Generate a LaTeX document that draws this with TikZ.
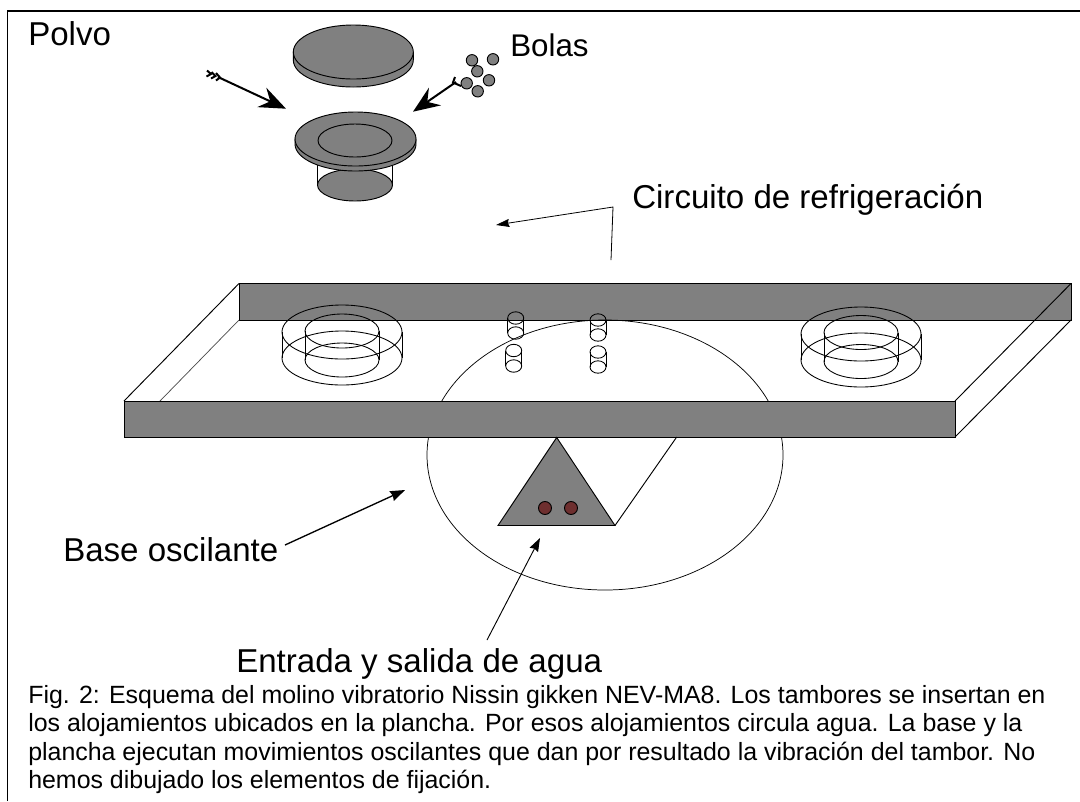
\documentclass[tikz,border=0pt]{standalone}
\usepackage{fontspec}
\setmainfont{Liberation Sans}
\usetikzlibrary{arrows.meta}
\definecolor{partgray}{HTML}{808080}
\definecolor{dotred}{HTML}{6E2F2F}
\tikzset{
  thinline/.style={draw=black,line width=0.7pt},
  hair/.style={draw=black,line width=0.55pt},
  solid part/.style={fill=partgray,draw=black,line width=0.7pt},
  ring/.style={draw=black,line width=0.65pt},
  label/.style={inner sep=0pt,anchor=base west,font=\fontsize{24.8pt}{28pt}\selectfont},
  capline/.style={inner sep=0pt,anchor=base west,font=\fontsize{18.7pt}{21pt}\selectfont},
  bigarrow/.style={draw=black,line width=1.5pt,-{Stealth[length=20pt,width=16pt,inset=7pt]}},
  midarrow/.style={draw=black,line width=1pt,-{Stealth[length=11pt,width=8pt,inset=1pt]}},
  feather/.style={draw=black,line width=1.5pt},
}
\newcommand{\minicyl}[3]{% x, top cy, bottom cy
  \draw[ring] (#1-8,#2) -- (#1-8,#3) (#1+8,#2) -- (#1+8,#3);
  \draw[ring] (#1,#2) ellipse [x radius=8,y radius=6.2];
  \draw[ring] (#1,#3) ellipse [x radius=8,y radius=6.2];
}
\newcommand{\housing}[5]{% x, outer top, outer low, inner top, inner low
  \draw[ring] (#1,#2) ellipse [x radius=60,y radius=27];
  \draw[ring] (#1,#3) ellipse [x radius=60,y radius=27];
  \draw[ring] (#1,#4) ellipse [x radius=37,y radius=17];
  \draw[ring] (#1,#5) ellipse [x radius=37,y radius=17];
  \draw[ring] (#1-60,#2) -- (#1-60,#3) (#1+60,#2) -- (#1+60,#3);
  \draw[ring] (#1-37,#4) -- (#1-37,#5) (#1+37,#4) -- (#1+37,#5);
}
\begin{document}
\begin{tikzpicture}[x=0.75pt,y=-0.75pt]
\useasboundingbox (0,0) rectangle (1080,801);
% frame
\draw[black,line width=1.3pt] (7.5,801) -- (7.5,11) -- (1080,11);
% plate: back wall
\fill[partgray] (239,283.5) rectangle (1071,320);
\draw[thinline] (239,320) -- (239,283.5) -- (1071,283.5) -- (1071,320) -- cycle;
% base ellipse
\draw[hair] (605,455) ellipse [x radius=178,y radius=135];
% plate edges
\draw[thinline] (124,401) -- (239,283.5);
\draw[hair,draw=black!70] (160,401) -- (239,320);
\draw[thinline] (955,401) -- (1071,283.5);
\draw[thinline] (955,437) -- (1071,320);
\draw[solid part] (124,401) rectangle (955,437);
% housings
\housing{342}{332}{358}{331}{360}
\housing{861}{334}{360}{332.5}{361.5}
\minicyl{515.7}{318}{333}
\minicyl{513.7}{350.5}{366}
\minicyl{598}{320}{335}
\minicyl{598}{352}{367}
% support
\draw[thinline] (615,525.5) -- (676.7,437);
\draw[solid part] (556.7,437.5) -- (498,525.5) -- (615,525.5) -- cycle;
\draw[fill=dotred,draw=black,line width=0.7pt] (545,508) circle [x radius=6.5,y radius=6.5];
\draw[fill=dotred,draw=black,line width=0.7pt] (571,508) circle [x radius=6.5,y radius=6.5];
% lid
\draw[solid part] (293.3,52) -- (293.3,60) arc [start angle=180,end angle=0,x radius=60,y radius=27] -- (413.3,52) -- cycle;
\draw[solid part] (353.3,52) ellipse [x radius=60,y radius=27];
% drum
\draw[thinline] (317.5,155) -- (317.5,185) (392.5,155) -- (392.5,185);
\draw[solid part] (355,185) ellipse [x radius=37.5,y radius=16];
\draw[solid part] (295,139) -- (295,144) arc [start angle=180,end angle=0,x radius=60.5,y radius=27] -- (416,139) -- cycle;
\draw[solid part] (355.5,139) ellipse [x radius=60.5,y radius=27];
\draw[thinline] (355,140.5) ellipse [x radius=37,y radius=16.5];
% arrow left
\coordinate (la) at (218,77);
\coordinate (lb) at (286,108.7);
\draw[bigarrow] (la) -- (lb);
\draw[feather] (207,70.5) -- (211,74) -- (206.5,76.5);
\draw[feather] (211.5,72) -- (215.5,76) -- (211,78.5);
\draw[feather] (216,73) -- (220,77.5) -- (216,80.5);
% arrow right
\coordinate (ra) at (456,82);
\coordinate (rb) at (413,111.7);
\draw[bigarrow] (ra) -- (rb);
\draw[feather] (455,77) -- (453,82.5) -- (461,86);
% balls
\foreach \bx/\by in {472/60.3,493/59.3,477.3/71.3,466.7/83.3,489/80.3,477.7/91.3}
  \draw[fill=partgray,draw=black,line width=0.7pt] (\bx,\by) circle [x radius=5.7,y radius=5.7];
% labels
\node[label] (polvo) at (28,45) {Polvo};
\node[label,font=\fontsize{23.5pt}{28pt}\selectfont] (bolas) at (510,56) {Bolas};
\node[label] (circ) at (632,208) {Circuito de refrigeración};
\node[label] (base) at (63,561.7) {Base oscilante};
\node[label] (entr) at (236,672) {Entrada y salida de agua};
% pointers
\coordinate (c0) at (611,260);
\coordinate (c1) at (613,207);
\coordinate (c2) at (496,225);
\draw[draw=black,line width=0.6pt,-{Stealth[length=10pt,width=6pt,inset=1pt]}] (c0) -- (c1) -- (c2);
\coordinate (b0) at (285,545);
\coordinate (b1) at (405,490);
\draw[midarrow] (b0) -- (b1);
\coordinate (e0) at (487,640);
\coordinate (e1) at (540,538);
\draw[draw=black,line width=0.7pt,-{Stealth[length=10pt,width=7pt,inset=1pt]}] (e0) -- (e1);
% caption
\node[capline] (cap1) at (28,703) {Fig. 2: Esquema del molino vibratorio Nissin gikken NEV-MA8. Los tambores se insertan en};
\node[capline] (cap2) at (28,731) {los alojamientos ubicados en la plancha. Por esos alojamientos circula agua. La base y la};
\node[capline] (cap3) at (28,760) {plancha ejecutan movimientos oscilantes que dan por resultado la vibración del tambor. No};
\node[capline] (cap4) at (28,788) {hemos dibujado los elementos de fijación.};
\end{tikzpicture}
\end{document}
